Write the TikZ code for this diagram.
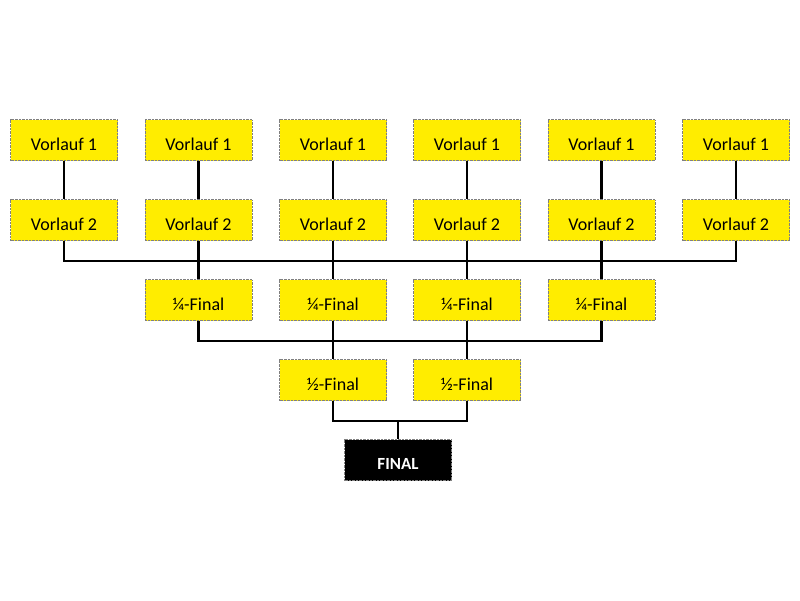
\documentclass[tikz,border=0pt]{standalone}
\usepackage{fontspec}
\setmainfont{Carlito}
\usetikzlibrary{positioning}

\definecolor{heatyellow}{HTML}{FFED00}

\tikzset{
    round/.style={draw=gray, densely dotted, fill=heatyellow, minimum width=107pt,
        minimum height=41pt, inner sep=0pt, text height=20pt, text depth=0pt,
        font=\fontsize{18}{21}\selectfont},
    finalbox/.style={round, fill=black, text=white, text height=18pt,
        font=\fontsize{17}{20}\selectfont\bfseries},
    link/.style={line width=2.3pt, solid}
}

\begin{document}
\begin{tikzpicture}[x=1pt,y=-1pt]

\useasboundingbox (0,0) rectangle (800,600);

\foreach \i/\x in {1/64,2/198.5,3/333,4/467,5/601.5,6/736}
{
    \node [round] (v1-\i) at (\x,140) {Vorlauf 1};
    \node [round] (v2-\i) at (\x,220) {Vorlauf 2};
}

\foreach \i/\x in {1/198.5,2/333,3/467,4/601.5}
    \node [round] (q\i) at (\x,300) {¼-Final};

\foreach \i/\x in {1/333,2/467}
    \node [round] (h\i) at (\x,380) {½-Final};

\node [finalbox] (final) at (398,460) {FINAL};

\coordinate (bar1) at (400,261);
\coordinate (bar2) at (400,341);
\coordinate (bar3) at (final.north |- 0,421);

% heats
\foreach \i in {1,...,6}
    \draw [link] (v1-\i) -- (v2-\i);
\draw [link] (v2-1.south) |- (bar1) -| (v2-6.south);
\foreach \i/\j in {2/1,3/2,4/3,5/4}
    \draw [link] (v2-\i) -- (q\j);

% quarter and half
\draw [link] (q1.south) |- (bar2) -| (q4.south);
\draw [link] (q2) -- (h1);
\draw [link] (q3) -- (h2);
\draw [link] (h1.south) |- (bar3) -| (h2.south);
\draw [link] (bar3) -- (final);

\end{tikzpicture}
\end{document}
